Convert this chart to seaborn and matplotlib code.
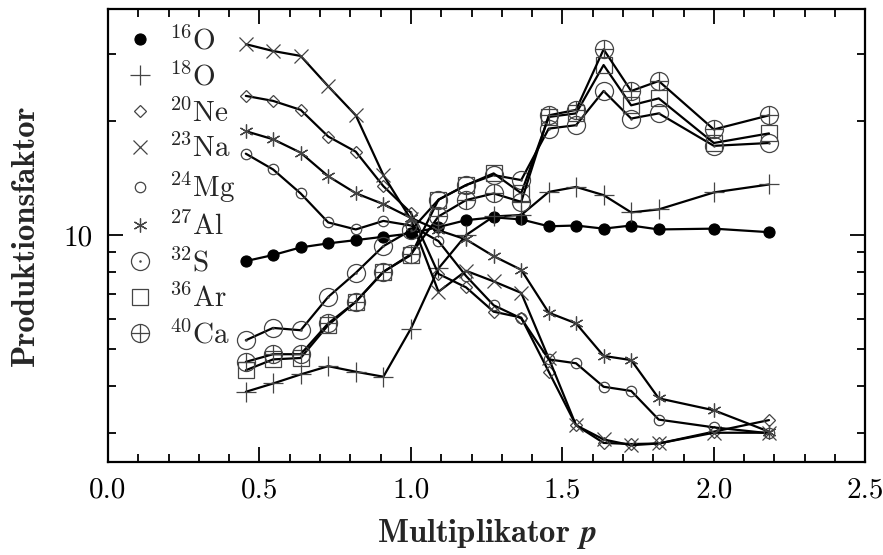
import numpy as np
import pandas as pd
import seaborn as sns
import matplotlib
matplotlib.use("Agg")
import matplotlib.pyplot as plt
from matplotlib.path import Path
from matplotlib.lines import Line2D
from matplotlib.ticker import FixedLocator, NullFormatter, FixedFormatter

# Multiplikator p (x-Werte)
p = [0.455, 0.545, 0.636, 0.727, 0.818, 0.909, 1.0, 1.091, 1.182,
     1.273, 1.364, 1.455, 1.545, 1.636, 1.727, 1.818, 2.0, 2.182]

# Produktionsfaktoren
o16 = [8.54, 8.86, 9.28, 9.51, 9.70, 9.90, 10.1, 10.5, 10.95,
       11.14, 11.0, 10.55, 10.6, 10.4, 10.6, 10.35, 10.4, 10.18]
o18 = [3.86, 4.06, 4.29, 4.51, 4.36, 4.23, 5.67, 8.17, 10.0,
       11.2, 11.3, 13.0, 13.4, 12.75, 11.48, 11.69, 12.96, 13.6]
ne20 = [23.3, 22.6, 21.4, 18.2, 16.6, 13.46, 11.45, 7.9, 7.28,
        6.28, 6.06, 4.36, 3.15, 2.83, 2.81, 2.82, 3.03, 3.25]
na23 = [31.9, 30.6, 29.7, 24.7, 20.7, 14.4, 11.0, 7.09, 8.05,
        7.55, 7.04, 4.73, 3.15, 2.89, 2.79, 2.82, 3.01, 3.01]
mg24 = [16.4, 14.9, 12.88, 10.8, 10.35, 10.9, 10.6, 9.64, 7.8,
        6.53, 6.03, 4.70, 4.59, 3.98, 3.88, 3.26, 3.11, 3.0]
al27 = [18.8, 17.9, 16.5, 14.3, 12.9, 12.07, 11.1, 10.3, 9.74,
        8.8, 8.1, 6.24, 5.85, 4.80, 4.68, 3.71, 3.45, 3.03]
s32 = [5.28, 5.69, 5.61, 6.87, 7.95, 9.35, 10.3, 12.4, 13.55,
       14.4, 13.97, 19.1, 19.5, 24.0, 20.3, 20.95, 17.2, 17.5]
ar36 = [4.40, 4.70, 4.74, 5.79, 6.67, 8.0, 8.86, 12.4, 13.55,
        14.55, 12.9, 20.5, 20.95, 28.1, 22.0, 22.95, 17.5, 18.55]
ca40 = [4.63, 4.85, 4.85, 5.85, 6.67, 8.0, 8.9, 11.2, 12.37,
        12.88, 12.24, 20.7, 21.4, 30.9, 24.0, 25.5, 19.0, 20.7]

labels = [r'$^{16}$O', r'$^{18}$O', r'$^{20}$Ne', r'$^{23}$Na', r'$^{24}$Mg',
          r'$^{27}$Al', r'$^{32}$S', r'$^{36}$Ar', r'$^{40}$Ca']
series = [o16, o18, ne20, na23, mg24, al27, s32, ar36, ca40]

# eigene Marker: Kreis mit Punkt, Kreis mit Kreuz
circ = Path.unit_circle()
dot = Path.circle((0, 0), 0.07)
hline = Path([[-1, 0], [1, 0]], [Path.MOVETO, Path.LINETO])
vline = Path([[0, -1], [0, 1]], [Path.MOVETO, Path.LINETO])
odot = Path.make_compound_path(circ, dot)
oplus = Path.make_compound_path(circ, hline, vline)

mk = [dict(marker='o', ms=8, mfc='black', mec='black', mew=0.8),
      dict(marker='+', ms=14, mfc='none', mec='#444444', mew=0.9),
      dict(marker='D', ms=6.5, mfc='none', mec='#444444', mew=0.9),
      dict(marker='x', ms=10, mfc='none', mec='#444444', mew=0.9),
      dict(marker='o', ms=7.5, mfc='none', mec='#444444', mew=0.9),
      dict(marker=(6, 2, 0), ms=10, mfc='none', mec='#444444', mew=0.9),
      dict(marker=odot, ms=13, mfc='none', mec='#444444', mew=0.9),
      dict(marker='s', ms=12, mfc='none', mec='#444444', mew=0.9),
      dict(marker=oplus, ms=13, mfc='none', mec='#444444', mew=0.9)]

sns.set_style("ticks")
plt.rcParams['font.family'] = ['cmr10']
plt.rcParams['mathtext.fontset'] = 'cm'
plt.rcParams['axes.formatter.use_mathtext'] = True

fig = plt.figure(figsize=(8.83, 5.55), dpi=100)
ax = fig.add_axes([0.1223, 0.1676, 0.8577, 0.8162])

for name, vals, m in zip(labels, series, mk):
    df = pd.DataFrame({'p': p, 'faktor': vals})
    sns.lineplot(data=df, x='p', y='faktor', ax=ax, color='black', lw=1.6,
                 markeredgecolor=m['mec'], markerfacecolor=m['mfc'],
                 marker=m['marker'], markersize=m['ms'], markeredgewidth=m['mew'])

ax.set_yscale('log')
ax.set_xlim(0, 2.5)
ax.set_ylim(2.52, 39.5)
ax.set_xticks([0.0, 0.5, 1.0, 1.5, 2.0, 2.5])
ax.set_xticklabels(['0.0', '0.5', '1.0', '1.5', '2.0', '2.5'])
ax.xaxis.set_minor_locator(FixedLocator(np.arange(0, 2.51, 0.1)))
ax.yaxis.set_major_locator(FixedLocator([10]))
ax.yaxis.set_major_formatter(FixedFormatter(['10']))
ax.yaxis.set_minor_locator(FixedLocator([3, 4, 5, 6, 7, 8, 9, 20, 30]))
ax.yaxis.set_minor_formatter(NullFormatter())

ax.tick_params(which='both', direction='in', top=True, right=True, width=1.3,
               labelsize=21, colors='black')
ax.tick_params(which='major', length=11, pad=11)
ax.tick_params(which='minor', length=6)
for s in ax.spines.values():
    s.set_linewidth(1.6)
    s.set_color('black')

ax.set_xlabel('Multiplikator ' + r'$\mathbfit{p}$', fontfamily='cmb10', fontsize=23.5, labelpad=9.5)
ax.set_ylabel('Produktionsfaktor', fontfamily='cmb10', fontsize=23.5, labelpad=17)

handles = [Line2D([], [], ls='none', marker=m['marker'], ms=m['ms'],
                  mfc=m['mfc'], mec=m['mec'], mew=m['mew']) for m in mk]
ax.legend(handles, labels, loc='upper left', frameon=False, fontsize=21,
          handlelength=1.0, handletextpad=0.5, labelspacing=0.232,
          borderaxespad=0.3, borderpad=0.3)

fig.savefig('out.png', dpi=100)
